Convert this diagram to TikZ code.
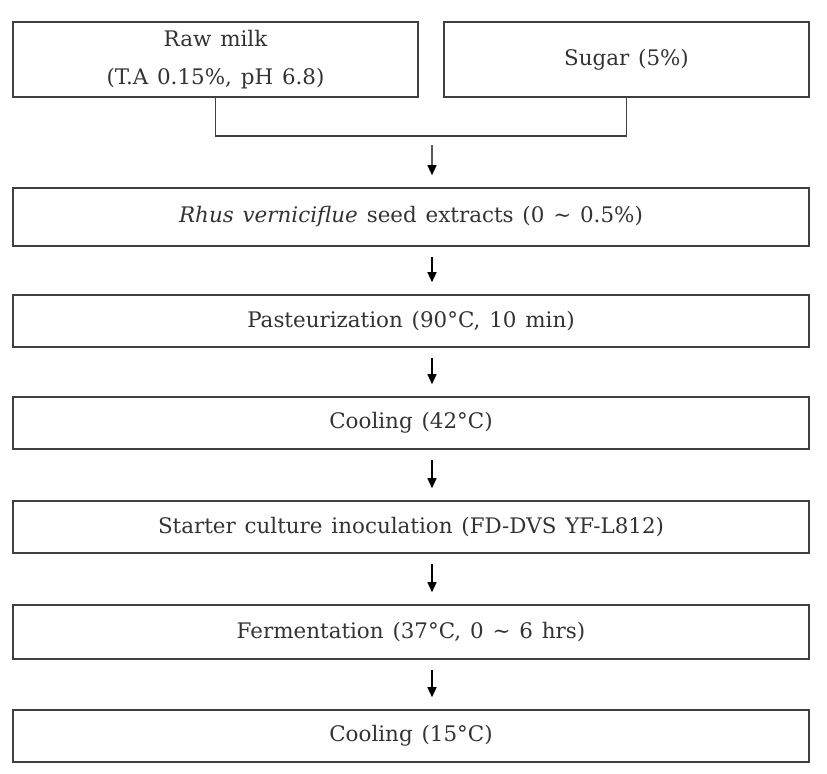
\documentclass[tikz,border=0pt]{standalone}
\usepackage{fontspec}
\setmainfont{DejaVu Serif}[WordSpace=1.3]
\usetikzlibrary{arrows.meta}
\begin{document}
\begin{tikzpicture}[x=1bp, y=-1bp,
  every node/.style={font=\fontsize{21.5}{38}\selectfont, text=black!80},
  stepbox/.style={draw=black!75, line width=1.6bp, minimum width=796bp, minimum height=52bp, inner sep=0pt},
  flow/.style={-{Triangle[length=10bp,width=9bp]}, line width=1.4bp, shorten <=10bp, shorten >=12bp}]
  \useasboundingbox (0,0) rectangle (827,774);
  % Ingredient blocks
  \node[stepbox, minimum width=405bp, minimum height=75bp, align=center] (milk) at (215.5,59.5) {Raw milk\\(T.A 0.15\%, pH 6.8)};
  \node[stepbox, minimum width=365bp, minimum height=75bp] (sugar) at (626.5,59.5) {Sugar (5\%)};
  % Joining line
  \draw[black!75, line width=1.8bp] (milk.south) -- ++(0,38) -| (sugar.south);
  \coordinate (merge) at (432,135);
  % Process steps
  \node[stepbox, minimum height=58bp] (extract) at (411,217) {\textit{Rhus verniciflue} seed extracts (0 \textasciitilde{} 0.5\%)};
  \node[stepbox] (pasteur) at (411,321) {Pasteurization (90°C, 10 min)};
  \node[stepbox] (cool1) at (411,423) {Cooling (42°C)};
  \node[stepbox] (starter) at (411,527) {Starter culture inoculation (FD-DVS YF-L812)};
  \node[stepbox, minimum height=54bp] (ferment) at (411,632) {Fermentation (37°C, 0 \textasciitilde{} 6 hrs)};
  \node[stepbox] (cool2) at (411,736) {Cooling (15°C)};
  % Arrows
  \draw[flow] (merge) -- ([xshift=21bp]extract.north);
  \draw[flow] ([xshift=21bp]extract.south) -- ([xshift=21bp]pasteur.north);
  \draw[flow] ([xshift=21bp]pasteur.south) -- ([xshift=21bp]cool1.north);
  \draw[flow] ([xshift=21bp]cool1.south) -- ([xshift=21bp]starter.north);
  \draw[flow] ([xshift=21bp]starter.south) -- ([xshift=21bp]ferment.north);
  \draw[flow] ([xshift=21bp]ferment.south) -- ([xshift=21bp]cool2.north);
\end{tikzpicture}
\end{document}
